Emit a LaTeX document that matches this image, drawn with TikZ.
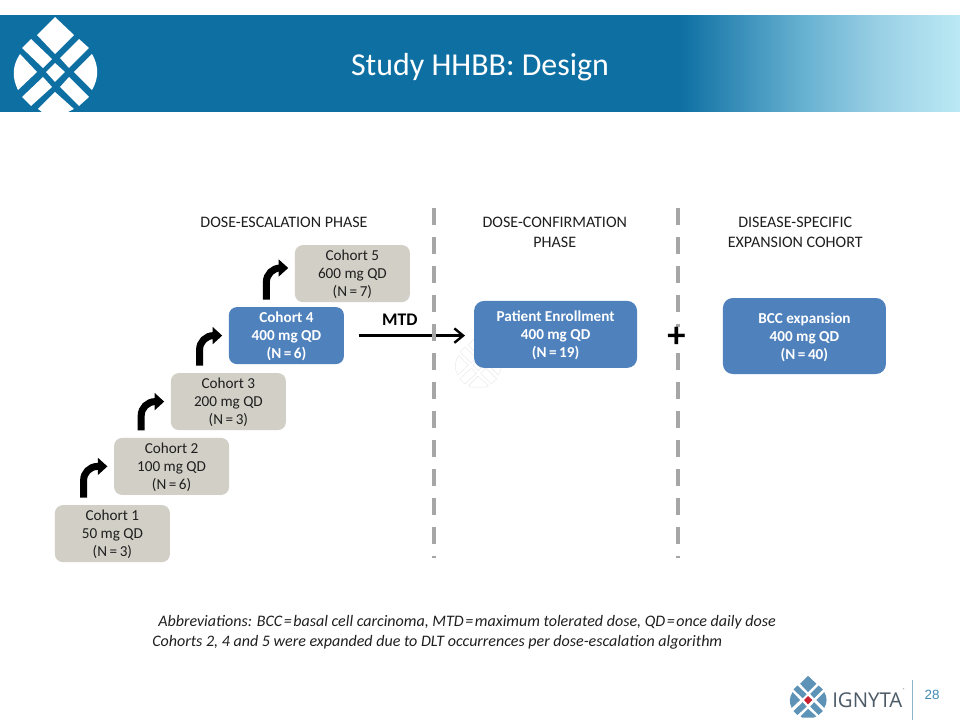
\documentclass[tikz,border=0pt]{standalone}
\usepackage{fontspec}
\setmainfont{Carlito}
\newfontfamily\numfont{Liberation Sans}
\newfontfamily\brandfont{Open Sans}
\usetikzlibrary{arrows.meta}
\definecolor{igblue}{HTML}{0E6FA3}
\definecolor{igsky}{HTML}{BBE9F5}
\definecolor{bandA}{HTML}{65B0D0}
\definecolor{bandB}{HTML}{9AD0E5}
\definecolor{igmid}{HTML}{5E93B8}
\definecolor{igred}{HTML}{C8202F}
\definecolor{igtext}{HTML}{4A5A66}
\definecolor{boxgray}{HTML}{D1CFC6}
\definecolor{boxblue}{HTML}{4F81BD}
\definecolor{dashgray}{HTML}{A6A6A6}
\definecolor{inkdark}{HTML}{1F1F1F}
\pgfdeclarehorizontalshading{bandshade}{100bp}{
  color(0bp)=(igblue); color(60.4bp)=(igblue); color(66.7bp)=(bandA);
  color(70.8bp)=(bandB); color(75bp)=(igsky); color(100bp)=(igsky)}
\tikzset{
  graybox/.style={fill=boxgray, text=inkdark, rounded corners=0.2cm, minimum width=2.875cm,
    minimum height=1.425cm, align=center, inner sep=0pt, text depth=0pt,
    font=\fontsize{10.8}{12.8}\selectfont},
  bluebox/.style={graybox, fill=boxblue, text=white, font=\fontsize{10.8}{12.8}\selectfont\bfseries},
  widebox/.style={bluebox, rounded corners=0.25cm, minimum width=4.075cm},
  phasehead/.style={align=center, text=inkdark, font=\fontsize{11.4}{14.2}\selectfont},
  stepline/.style={line width=0.175cm, rounded corners=0.35cm, shorten <=0.18cm, shorten >=0.16cm,
    -{Triangle[length=0.24cm,width=0.42cm]}},
  phaseline/.style={dashgray, line width=0.1cm, dash pattern=on 0.425cm off 0.3cm},
  footnote/.style={anchor=west, inner sep=0pt, text=inkdark, font=\fontsize{11.4}{14}\selectfont\itshape},
  logocentre/.style={},
  pics/droplet/.style={code={
    \begin{scope}[x=0.025cm, y=-0.025cm]
      \path[pic actions] (0,-55) -- (19,-37) -- (0,-18) -- (-18,-37) -- cycle;
      \path[pic actions] (-24,-33) -- (-3,-13) -- (-12,-4) -- (-33,-24) -- cycle;
      \path[pic actions] (24,-33) -- (34,-24) -- (14,-4) -- (5,-14) -- cycle;
      \path[pic actions, logocentre] (0,-9) -- (10,0) -- (0,10) -- (-9,0) -- cycle;
      \path[pic actions] (-35,-18) -- (-18,0) -- (-37,18) .. controls (-43,6) and (-43,-6) .. cycle;
      \path[pic actions] (37,-18) -- (19,0) -- (37,18) .. controls (44,6) and (44,-6) .. cycle;
      \path[pic actions] (-12,5) -- (-3,15) -- (-24,34) -- (-33,25) -- cycle;
      \path[pic actions] (14,5) -- (34,25) -- (24,34) -- (5,15) -- cycle;
      \path[pic actions] (0,20) -- (19,37) -- (13,40) -- (-13,40) -- (-17,37) -- cycle;
    \end{scope}
  }}
}
\begin{document}
\begin{tikzpicture}
  \useasboundingbox (0,0) rectangle (24,18);
  \fill[white] (0,0) rectangle (24,18);
  % header band
  \shade[shading=bandshade] (0,15.2) rectangle (24,17.6);
  \pic[fill=white] at (1.375,16.2) {droplet};
  \node[text=white, font=\fontsize{22.7}{24}\selectfont] (title) at (12,16.32) {Study HHBB: Design};
  % faint mark behind the arrow
  \pic[draw=black!9, line width=0.3pt, scale=0.55] at (11.95,8.87) {droplet};
  % phase headings
  \node[phasehead] (escalation) at (7.1,12.45) {DOSE-ESCALATION PHASE};
  \node[phasehead] (confirmation) at (13.87,12.2) {DOSE-CONFIRMATION\\PHASE};
  \node[phasehead] (expansion) at (19.88,12.2) {DISEASE-SPECIFIC\\EXPANSION COHORT};
  % cohort staircase
  \node[graybox] (cohortA) at (2.81,4.66) {Cohort 1\\50 mg QD\\(N\,=\,3)};
  \node[graybox] (cohortB) at (4.29,6.34) {Cohort 2\\100 mg QD\\(N\,=\,6)};
  \node[graybox] (cohortC) at (5.71,7.96) {Cohort 3\\200 mg QD\\(N\,=\,3)};
  \node[bluebox] (cohortD) at (7.16,9.61) {Cohort 4\\400 mg QD\\(N\,=\,6)};
  \node[graybox] (cohortE) at (8.81,11.16) {Cohort 5\\600 mg QD\\(N\,=\,7)};
  % later phases
  \node[widebox, minimum height=1.675cm] (enroll) at (13.89,9.64) {Patient Enrollment\\400 mg QD\\(N\,=\,19)};
  \node[widebox, minimum height=1.9cm] (bcc) at (20.11,9.6) {BCC expansion\\400 mg QD\\(N\,=\,40)};
  % bent arrows up the stairs
  \draw[stepline] ([xshift=-0.72cm]cohortA.north) |- (cohortB.west);
  \draw[stepline] ([xshift=-0.76cm]cohortB.north) |- (cohortC.west);
  \draw[stepline] ([xshift=-0.72cm]cohortC.north) |- (cohortD.west);
  \draw[stepline] ([xshift=-0.5cm]cohortD.north) |- ([yshift=0.14cm]cohortE.west);
  % arrow into confirmation
  \draw[line width=0.06cm, -{Straight Barb[length=0.22cm,width=0.36cm]}, shorten <=0.375cm, shorten >=0.22cm]
    (cohortD.east) -- node[pos=0.43, above=0.1cm, font=\fontsize{12.6}{15}\selectfont\bfseries] (mtd) {MTD} (cohortD.east -| enroll.west);
  % phase separators
  \coordinate (sepAtop) at (10.85,12.8); \coordinate (sepAend) at (10.85,4.04);
  \coordinate (sepBtop) at (16.95,12.8); \coordinate (sepBend) at (16.95,4.04);
  \draw[phaseline] (sepAtop) -- (sepAend);
  \draw[phaseline] (sepBtop) -- (sepBend);
  \node[fill=white, inner sep=0pt, minimum size=0.4cm, text=black, font=\fontsize{26}{26}\selectfont\bfseries] (plus) at (16.91,9.57) {+};
  % abbreviations
  \node[footnote] (abbrev) at (3.95,2.45) {Abbreviations: BCC\hspace{1.1pt}=\hspace{1.1pt}basal cell carcinoma, MTD\hspace{1.1pt}=\hspace{1.1pt}maximum tolerated dose, QD\hspace{1.1pt}=\hspace{1.1pt}once daily dose};
  \node[footnote] (expanded) at (3.8,1.95) {Cohorts 2, 4 and 5 were expanded due to DLT occurrences per dose-escalation algorithm};
  % corner brand
  \begin{scope}[logocentre/.style={fill=igred}]
    \pic[fill=igmid, scale=0.44] at (20.2,0.5) {droplet};
  \end{scope}
  \node[anchor=west, inner sep=0pt, text=igtext, font=\brandfont\fontsize{14.5}{15}\selectfont] (brand) at (20.8,0.5) {IGNYTA};
  \node[anchor=south west, inner sep=0pt, text=igtext, font=\fontsize{3}{3}\selectfont] (reg) at (brand.north east) {®};
  \coordinate (ruleTop) at (22.8,1); \coordinate (ruleEnd) at (22.8,0);
  \draw[igmid!70, line width=0.6pt] (ruleTop) -- (ruleEnd);
  \node[text=igblue!80, font=\numfont\fontsize{9.5}{10}\selectfont] (page) at (23.3,0.62) {28};
\end{tikzpicture}
\end{document}
